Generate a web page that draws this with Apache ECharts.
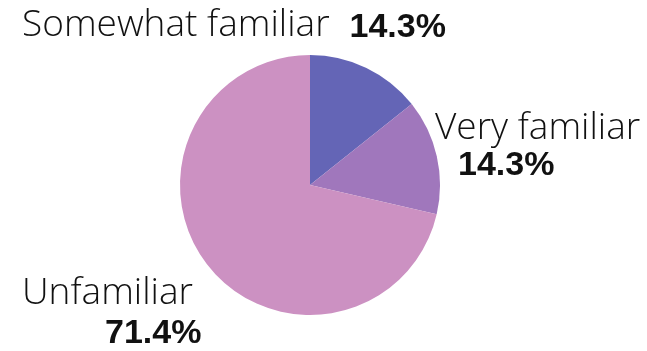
<!DOCTYPE html>
<html><head><meta charset="utf-8">
<script src="https://cdn.jsdelivr.net/npm/echarts@6/dist/echarts.min.js"></script>
<style>html,body{margin:0;padding:0;background:#fff}#c{width:647px;height:351px}</style>
</head><body><div id="c"></div>
<script>
var categories = ['Somewhat familiar', 'Very familiar', 'Unfamiliar'];
var values = [14.3, 14.3, 71.4];
var colors = ['#6465b6', '#a077bc', '#cc91c2'];

var chart = echarts.init(document.getElementById('c'), null, {renderer: 'canvas'});
var nameStyle = {fontFamily: 'Open Sans', fontWeight: 300, fontSize: 37, color: '#111'};
var pctStyle = {fontFamily: 'Liberation Sans', fontWeight: 'bold', fontSize: 34, color: '#111'};
function rich() {
  return {
    n0: Object.assign({}, nameStyle, {lineHeight: 44}),
    p0: Object.assign({}, pctStyle, {lineHeight: 44, padding: [6, 0, 0, 20]}),
    n1: Object.assign({}, nameStyle, {lineHeight: 40}),
    p1: Object.assign({}, pctStyle, {lineHeight: 36, padding: [0, 0, 0, 23]}),
    n2: Object.assign({}, nameStyle, {lineHeight: 44}),
    p2: Object.assign({}, pctStyle, {lineHeight: 38, padding: [0, 0, 0, 83]})
  };
}
var labelPos = [
  {x: 22, y: 3},
  {x: 435, y: 108},
  {x: 22, y: 271}
];
chart.setOption({
  animation: false,
  series: [{
    type: 'pie',
    center: [310, 185],
    radius: 130,
    startAngle: 90,
    clockwise: true,
    data: categories.map(function (c, i) {
      return {name: c, value: values[i], itemStyle: {color: colors[i]}};
    }),
    label: {
      show: true,
      position: 'outside',
      overflow: 'none',
      bleedMargin: 0,
      edgeDistance: 0,
      rich: rich(),
      formatter: function (p) {
        var i = p.dataIndex;
        var pct = values[i].toFixed(1) + '%';
        if (i === 0) return '{n0|' + p.name + '}{p0|' + pct + '}';
        return '{n' + i + '|' + p.name + '}\n{p' + i + '|' + pct + '}';
      }
    },
    labelLine: {show: false},
    labelLayout: function (params) {
      var lp = labelPos[params.dataIndex];
      return {x: lp.x, y: lp.y, align: 'left', verticalAlign: 'top', hideOverlap: false, moveOverlap: false};
    },
    emphasis: {disabled: true}
  }]
});
</script>
</body></html>
